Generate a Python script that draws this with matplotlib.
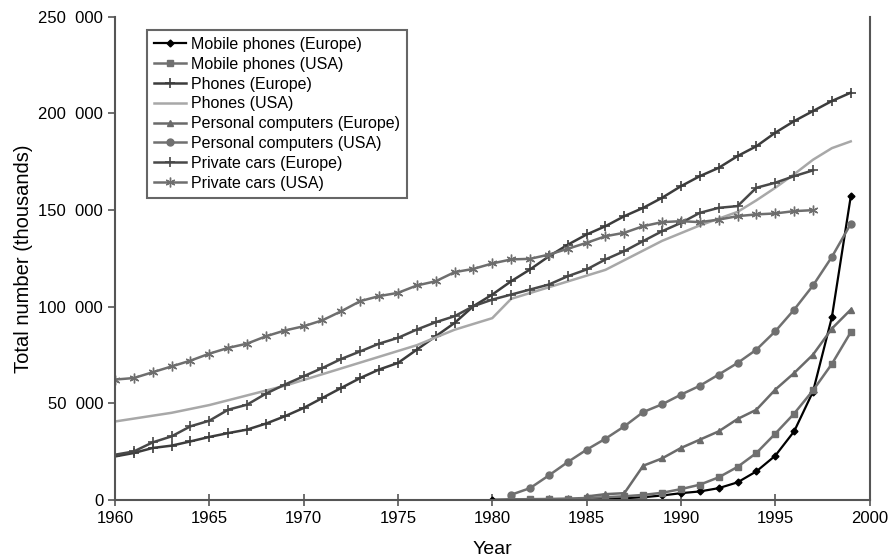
import numpy as np
import matplotlib
matplotlib.use("Agg")
from matplotlib import pyplot as plt
from matplotlib.ticker import FuncFormatter

plt.rcParams['font.family'] = ['Liberation Sans', 'DejaVu Sans']

# --- data (thousands) ---
years_mob_eu = list(range(1980, 2000))
mob_eu = [0, 0.1, 0.1, 0.2, 0.2, 0.3, 0.5, 0.8, 1.3, 2.2,
          3.4, 4.3, 6.0, 9.0, 14.7, 22.8, 35.4, 56.0, 94.5, 157.0]

years_mob_us = list(range(1981, 2000))
mob_us = [0.2, 0.3, 0.4, 0.6, 0.9, 1.3, 1.8, 2.5, 3.6,
          5.5, 7.8, 11.6, 17.0, 24.2, 34.2, 44.6, 56.6, 70.3, 86.7]

years_ph_eu = list(range(1960, 2000))
ph_eu = [22.4, 24.2, 26.8, 28.0, 30.2, 32.5, 34.5, 36.3, 39.4, 43.2,
         47.5, 52.7, 57.9, 63.0, 67.4, 70.8, 77.7, 84.6, 91.5, 100.2,
         106.2, 113.1, 119.2, 126.0, 132.0, 137.3, 141.6, 146.8, 151.1, 156.3,
         162.3, 167.5, 171.8, 177.9, 183.0, 190.0, 196.0, 201.2, 206.4, 210.7]

years_ph_us = list(range(1960, 2000))
ph_us = [40.5, 42.0, 43.5, 45.0, 47.0, 49.0, 51.5, 54.0, 56.5, 59.0,
         62.0, 65.0, 68.0, 71.0, 74.0, 77.0, 80.0, 84.0, 88.0, 91.0,
         94.0, 104.0, 107.0, 110.0, 113.0, 116.0, 119.0, 124.0, 129.0, 134.0,
         138.0, 142.0, 145.5, 149.0, 155.0, 161.5, 168.5, 176.0, 182.0, 185.5]

years_pc_eu = list(range(1985, 2000))
pc_eu = [1.7, 2.9, 3.4, 17.6, 21.4, 26.8, 31.1, 35.4, 41.8, 46.6,
         57.0, 65.6, 75.1, 88.6, 98.4]

years_pc_us = list(range(1981, 2000))
pc_us = [2.6, 6.0, 12.6, 19.5, 25.9, 31.6, 38.0, 45.4, 49.4,
         54.4, 59.0, 64.8, 70.8, 77.7, 87.2, 98.4, 110.9, 125.7, 142.8]

years_car_eu = list(range(1960, 1998))
car_eu = [23.3, 25.0, 29.7, 32.8, 38.0, 40.9, 46.6, 49.2, 54.9, 59.6,
          63.9, 68.2, 72.9, 76.8, 80.8, 83.8, 88.1, 91.9, 95.0, 100.2,
          103.6, 106.2, 108.8, 111.4, 115.7, 119.2, 124.4, 128.7, 133.9, 139.0,
          143.3, 148.5, 151.1, 152.0, 161.5, 164.1, 167.5, 170.5]

years_car_us = list(range(1960, 1998))
car_us = [62.2, 63.0, 66.0, 69.0, 72.0, 75.6, 78.6, 80.8, 84.6, 87.6,
          89.8, 92.9, 97.6, 102.8, 105.4, 107.1, 110.9, 113.1, 117.8, 119.5,
          122.3, 124.4, 124.7, 126.9, 129.9, 133.0, 136.4, 138.2, 141.6, 143.7,
          144.2, 143.7, 145.0, 146.8, 147.7, 148.2, 149.4, 149.9]

fig = plt.figure(figsize=(8.91, 5.59), dpi=100)
ax = fig.add_axes([0.129, 0.106, 0.847, 0.864])

asterisk = (6, 2, 0)

ax.plot(years_mob_eu, np.array(mob_eu) * 1000, color='#000000', lw=1.6,
        marker='D', ms=3.5, label='Mobile phones (Europe)')
ax.plot(years_mob_us, np.array(mob_us) * 1000, color='#707070', lw=1.8,
        marker='s', ms=5, label='Mobile phones (USA)')
ax.plot(years_ph_eu, np.array(ph_eu) * 1000, color='#3c3c3c', lw=1.8,
        marker='+', ms=7, mew=1.2, label='Phones (Europe)')
ax.plot(years_ph_us, np.array(ph_us) * 1000, color='#a8a8a8', lw=1.8,
        label='Phones (USA)')
ax.plot(years_pc_eu, np.array(pc_eu) * 1000, color='#6a6a6a', lw=1.8,
        marker='^', ms=5, label='Personal computers (Europe)')
ax.plot(years_pc_us, np.array(pc_us) * 1000, color='#707070', lw=1.8,
        marker='o', ms=5, label='Personal computers (USA)')
ax.plot(years_car_eu, np.array(car_eu) * 1000, color='#484848', lw=1.8,
        marker='+', ms=7, mew=1.2, label='Private cars (Europe)')
ax.plot(years_car_us, np.array(car_us) * 1000, color='#6e6e6e', lw=1.8,
        marker=asterisk, ms=7, mew=1.0, label='Private cars (USA)')

ax.set_xlim(1960, 2000)
ax.set_ylim(0, 250000)
ax.set_xticks(range(1960, 2001, 5))
ax.set_yticks(range(0, 250001, 50000))
ax.yaxis.set_major_formatter(FuncFormatter(lambda v, p: f"{int(v):,}".replace(",", "  ")))

for s in ax.spines.values():
    s.set_color('#555555')
    s.set_linewidth(1.5)
ax.spines['top'].set_visible(False)

ax.tick_params(axis='both', labelsize=12, color='#555555', width=1.2, length=5)
ax.tick_params(axis='x', direction='inout', length=8, pad=4)

ax.set_xlabel('Year', fontsize=14, labelpad=11)
ax.set_ylabel('Total number (thousands)', fontsize=14.5, labelpad=4)

leg = ax.legend(loc='upper left', bbox_to_anchor=(0.0424, 0.973), fontsize=11.5,
                fancybox=False, framealpha=1, edgecolor='#666666',
                handlelength=2.0, handletextpad=0.3, labelspacing=0.3,
                borderpad=0.45, borderaxespad=0)
leg.get_frame().set_linewidth(1.5)

fig.savefig('out.png', dpi=100)
